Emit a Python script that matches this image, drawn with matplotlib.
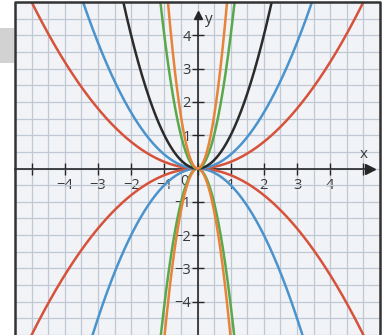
import numpy as np
import matplotlib
matplotlib.use("Agg")
import matplotlib.pyplot as plt
from matplotlib.patches import Rectangle
from matplotlib.lines import Line2D

plt.rcParams['font.family'] = ['Open Sans', 'DejaVu Sans']

# ---- data: parabolas y = a * x^2 (coefficients) ----
upper_colors = ['#d6523b', '#4b93cc', '#2b2b2b', '#5aa84c', '#e8833a']
upper_coeffs = [0.2, 0.42, 1.0, 4.0, 6.3]
lower_colors = ['#d6523b', '#4b93cc', '#5aa84c', '#e8833a']
lower_coeffs = [-0.2, -0.5, -4.1, -5.1]

x_ticks = [-5, -4, -3, -2, -1, 0, 1, 2, 3, 4, 5]
x_tick_labels = ['', '−4', '−3', '−2', '−1', '', '1', '2', '3', '4', '']
y_ticks = [-4, -3, -2, -1, 1, 2, 3, 4]
y_tick_labels = ['−4', '−3', '−2', '−1', '1', '2', '3', '4']

W, H = 382, 335
fig = plt.figure(figsize=(W / 100, H / 100), dpi=100, facecolor='white')

# frame in pixel terms
fl, fr, ft = 15, 380, 2
ox, oy, unit = 196.5, 167.5, 34.4
ax = fig.add_axes([fl / W, 0, (fr - fl) / W, (H - ft) / H])
ax.set_facecolor('#f1f3f7')
ax.set_xlim((fl - ox) / unit, (fr - ox) / unit)
ax.set_ylim((oy - H) / unit, (oy - ft) / unit)

# grey tab outside the frame
fig.patches.append(Rectangle((0, 1 - 63 / H), 14 / W, 35 / H, transform=fig.transFigure,
                             facecolor='#d2d2d2', edgecolor='none'))

# grid
ax.set_xticks(np.arange(-5.5, 5.51, 0.5), minor=True)
ax.set_yticks(np.arange(-5.0, 5.01, 0.5), minor=True)
ax.grid(which='both', color='#bfc8d3', lw=0.9)
ax.set_axisbelow(True)

# axes through origin
for s in ['top', 'right']:
    ax.spines[s].set_visible(False)
ax.spines['left'].set_position(('data', 0))
ax.spines['bottom'].set_position(('data', 0))
ax.spines['left'].set_bounds(ax.get_ylim()[0], 4.5)
ax.spines['bottom'].set_bounds(ax.get_xlim()[0], 5.1)
for s in ['left', 'bottom']:
    ax.spines[s].set_color('#262626')
    ax.spines[s].set_linewidth(1.2)
ax.plot([5.2], [0], marker='>', color='#262626', ms=7, clip_on=False, zorder=4)
ax.plot([0], [4.6], marker='^', color='#262626', ms=6, clip_on=False, zorder=4)

ax.set_xticks(x_ticks)
ax.set_xticklabels(x_tick_labels)
ax.set_yticks(y_ticks)
ax.set_yticklabels(y_tick_labels)
ax.tick_params(which='major', direction='inout', length=8, width=1.0, color='#262626',
               labelsize=10.5, labelcolor='#383838', pad=1.0)
ax.tick_params(axis='x', which='major', pad=2.5)
ax.tick_params(which='minor', length=0)

ax.text(-0.38, -0.4, '0', fontsize=10.5, color='#383838', ha='center', va='center')
ax.text(5.02, 0.42, 'x', fontsize=11, color='#383838', ha='center', va='center')
ax.text(0.33, 4.47, 'y', fontsize=11, color='#383838', ha='center', va='center')

# curves
xs = np.linspace(-5.4, 5.4, 1601)
for a, c in zip(lower_coeffs, lower_colors):
    ax.plot(xs, a * xs ** 2, color=c, lw=1.8, zorder=3)
for a, c in zip(upper_coeffs, upper_colors):
    ax.plot(xs, a * xs ** 2, color=c, lw=1.8, zorder=3)

# dark frame (left, top, right)
ax.add_line(Line2D([0, 0, 1, 1], [0, 1, 1, 0], transform=ax.transAxes,
                   color='#333333', lw=1.8, clip_on=False, zorder=5))

fig.savefig('out.png', dpi=100, facecolor='white')
